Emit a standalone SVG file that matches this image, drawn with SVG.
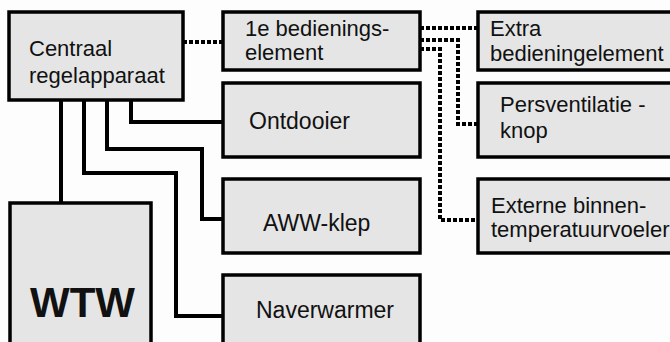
<svg xmlns="http://www.w3.org/2000/svg" width="670" height="342" viewBox="0 0 670 342">
<style>
.box{fill:#e5e5e5;stroke:#000;stroke-width:3.5}
.t{font-family:"Liberation Sans",Arial,sans-serif;font-size:22px;fill:#111}
.m{font-size:23px}
.b{font-family:"Liberation Sans",Arial,sans-serif;font-size:42px;font-weight:bold;fill:#111}
.s{fill:none;stroke:#000;stroke-width:4}
.d{fill:none;stroke:#000;stroke-width:4;stroke-dasharray:4 2}
</style>
<rect x="0" y="0" width="670" height="342" fill="#fdfdfd"/>
<g id="connectors">
<path class="s" d="M61 100V203"/>
<path class="s" d="M84 100V173H176V316H223"/>
<path class="s" d="M107 100V149H202V219H223"/>
<path class="s" d="M131 100V122H223"/>
<path class="d" d="M183 42H223"/>
<path class="d" d="M420 28H478"/>
<path class="d" d="M420 40H458V124H478"/>
<path class="d" d="M420 49H440V220H478"/>
</g>
<g id="centraal">
<rect class="box" x="9" y="12" width="174" height="88"/>
<text class="t" x="29" y="56">Centraal</text>
<text class="t" x="29" y="83">regelapparaat</text>
</g>
<g id="bediening1">
<rect class="box" x="223" y="12" width="197" height="58"/>
<text class="t" x="245" y="36">1e bedienings-</text>
<text class="t" x="245" y="60">element</text>
</g>
<g id="extra">
<rect class="box" x="478" y="12" width="200" height="58"/>
<text class="t" x="490" y="36">Extra</text>
<text class="t" x="490" y="61">bedieningelement</text>
</g>
<g id="persventilatie">
<rect class="box" x="478" y="83" width="200" height="74"/>
<text class="t" x="500" y="112">Persventilatie -</text>
<text class="t" x="500" y="138">knop</text>
</g>
<g id="externe">
<rect class="box" x="478" y="179" width="200" height="74"/>
<text class="t" x="491" y="213">Externe binnen-</text>
<text class="t" x="491" y="237">temperatuurvoeler</text>
</g>
<g id="ontdooier">
<rect class="box" x="223" y="83" width="197" height="74"/>
<text class="t m" x="249" y="129">Ontdooier</text>
</g>
<g id="awwklep">
<rect class="box" x="223" y="179" width="197" height="74"/>
<text class="t m" x="263" y="231">AWW-klep</text>
</g>
<g id="naverwarmer">
<rect class="box" x="223" y="275" width="197" height="80"/>
<text class="t m" x="256" y="318">Naverwarmer</text>
</g>
<g id="wtw">
<rect class="box" x="10" y="203" width="141" height="150"/>
<text class="b" x="30" y="317">WTW</text>
</g>
</svg>
